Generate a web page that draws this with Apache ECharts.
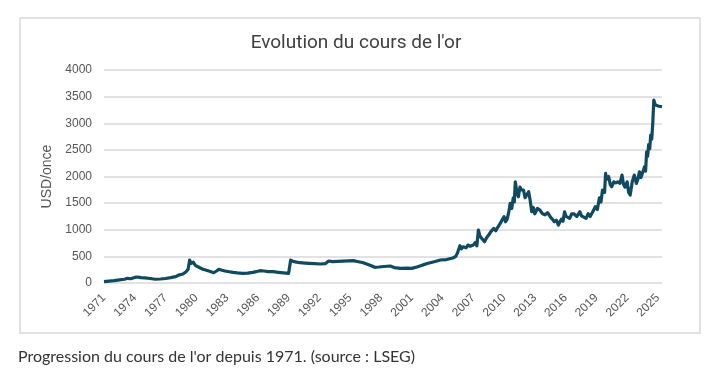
<!DOCTYPE html>
<html>
<head>
<meta charset="utf-8">
<script src="https://cdn.jsdelivr.net/npm/echarts@6/dist/echarts.min.js"></script>
<style>
html,body{margin:0;padding:0;background:#fff;}
#chart{width:720px;height:387px;}
</style>
</head>
<body>
<div id="chart"></div>
<script>
// Decimal years
var years = [
  1971.0,1971.5,1972.0,1972.5,1973.0,1973.3,1973.6,1974.0,1974.3,1974.6,
  1975.0,1975.5,1976.0,1976.5,1977.0,1977.5,1978.0,1978.3,1978.7,1979.0,
  1979.2,1979.35,1979.5,1979.7,1979.9,1980.2,1980.6,1980.9,1981.3,1981.7,
  1982.0,1982.2,1982.5,1982.8,1983.2,1983.6,1984.0,1984.5,1985.0,1985.5,
  1986.0,1986.2,1986.6,1987.0,1987.5,1988.0,1988.5,1989.0,1989.15,1989.2,
  1989.5,1990.1,1990.6,1991.0,1991.5,1992.1,1992.6,1992.9,1993.3,1993.8,
  1994.3,1994.8,1995.3,1995.8,1996.2,1996.6,1997.0,1997.4,1997.8,1998.3,
  1998.9,1999.3,1999.9,2000.5,2001.0,2001.5,2002.1,2002.6,2003.2,2003.8,
  2004.4,2005.0,2005.3,2005.45,2005.6,2005.7,2005.85,2006.0,2006.3,2006.5,
  2006.7,2007.0,2007.2,2007.35,2007.5,2007.65,2007.8,2008.1,2008.3,2008.5,
  2008.7,2009.0,2009.2,2009.4,2009.6,2009.8,2010.0,2010.15,2010.3,2010.45,
  2010.6,2010.75,2010.9,2011.0,2011.1,2011.25,2011.4,2011.55,2011.7,2011.9,
  2012.05,2012.2,2012.4,2012.55,2012.7,2012.85,2013.0,2013.25,2013.5,2013.75,
  2014.0,2014.25,2014.5,2014.7,2014.9,2015.1,2015.3,2015.45,2015.6,2015.75,
  2015.9,2016.05,2016.2,2016.4,2016.6,2016.8,2017.1,2017.25,2017.4,2017.55,
  2017.7,2018.0,2018.2,2018.4,2018.65,2018.9,2019.1,2019.3,2019.45,2019.6,
  2019.8,2019.9,2020.0,2020.2,2020.35,2020.5,2020.7,2020.9,2021.1,2021.3,
  2021.5,2021.65,2021.8,2022.0,2022.15,2022.3,2022.5,2022.7,2022.9,2023.05,
  2023.2,2023.35,2023.5,2023.7,2023.8,2023.9,2024.0,2024.1,2024.2,2024.3,
  2024.4,2024.5,2024.6,2024.75,2024.9,2025.1,2025.4
];
// Gold price, USD per ounce
var prices = [
  25,35,45,60,70,88,80,105,112,100,
  95,85,70,75,85,100,120,150,170,212,
  260,430,370,390,330,300,260,244,220,193,
  230,257,240,225,212,200,190,182,185,200,
  220,231,225,215,212,200,190,182,182,430,
  400,381,375,370,365,357,365,413,400,405,
  410,415,419,400,385,357,330,295,300,310,
  319,290,276,280,275,300,340,370,400,432,
  440,470,500,560,525,700,640,680,660,713,
  690,713,760,700,995,880,900,775,850,900,
  960,1026,980,1050,1110,1180,1245,1150,1200,1320,
  1495,1400,1600,1520,1901,1700,1620,1800,1750,1745,
  1600,1650,1714,1550,1338,1420,1300,1400,1370,1300,
  1280,1320,1245,1200,1150,1180,1089,1150,1200,1160,
  1338,1250,1280,1214,1300,1300,1250,1280,1338,1260,
  1250,1214,1300,1250,1340,1432,1380,1600,1520,1745,
  1700,2059,1950,2000,1850,1808,1900,1880,1900,1871,
  2027,1850,1800,1900,1700,1652,1900,2027,1871,1950,
  2089,1980,2000,2183,2100,2465,2380,2600,2520,2778,
  2700,3000,3435,3341,3360,3320,3310
];
var xTickYears = [1971,1974,1977,1980,1983,1986,1989,1992,1995,1998,2001,2004,2007,2010,2013,2016,2019,2022,2025];
var yTicks = [0,500,1000,1500,2000,2500,3000,3500,4000];

var seriesData = years.map(function(y,i){return [y, prices[i]];});

var chart = echarts.init(document.getElementById('chart'), null, {renderer:'canvas'});
chart.setOption({
  animation:false,
  backgroundColor:'#ffffff',
  grid:{left:104, right:58, top:70, bottom:104, containLabel:false},
  graphic:[
    {type:'rect', shape:{x:20,y:18,width:680,height:315}, style:{fill:'#ffffff', stroke:'#d9d9d9', lineWidth:1.5}, z:-10},
    {type:'text', x:356, y:43, style:{text:"Evolution du cours de l'or", fontSize:19, fill:'#404040', fontFamily:'Roboto, sans-serif', align:'center', verticalAlign:'middle'}},
    {type:'text', x:18, y:357, style:{text:"Progression du cours de l'or depuis 1971. (source : LSEG)", fontSize:16, fill:'#333333', fontFamily:'Lato, sans-serif', align:'left', verticalAlign:'middle'}}
  ],
  xAxis:{
    type:'value', min:1971, max:2025.4, interval:3,
    axisLine:{show:false}, axisTick:{show:false}, splitLine:{show:false},
    axisLabel:{
      rotate:45, margin:13, fontSize:12, color:'#555555', fontFamily:'Liberation Sans, Arial, sans-serif',
      showMaxLabel:false,
      formatter:function(v){ return xTickYears.indexOf(Math.round(v))>=0 && Math.abs(v-Math.round(v))<1e-6 ? String(Math.round(v)) : ''; }
    }
  },
  yAxis:{
    type:'value', min:yTicks[0], max:yTicks[yTicks.length-1], interval:500,
    name:'USD/once', nameLocation:'middle', nameGap:37, nameRotate:90,
    nameTextStyle:{fontSize:14, color:'#555555', fontFamily:'Liberation Sans, Arial, sans-serif'},
    axisLine:{show:false}, axisTick:{show:false},
    splitLine:{lineStyle:{color:'#d9d9d9', width:1.5}},
    axisLabel:{margin:12, fontSize:12, color:'#555555', fontFamily:'Liberation Sans, Arial, sans-serif',
      formatter:function(v){ return String(v); }}
  },
  series:[{
    type:'line', data:seriesData, showSymbol:false, smooth:false,
    lineStyle:{color:'#0f4a61', width:3.2, join:'round'}
  }]
});
</script>
</body>
</html>
